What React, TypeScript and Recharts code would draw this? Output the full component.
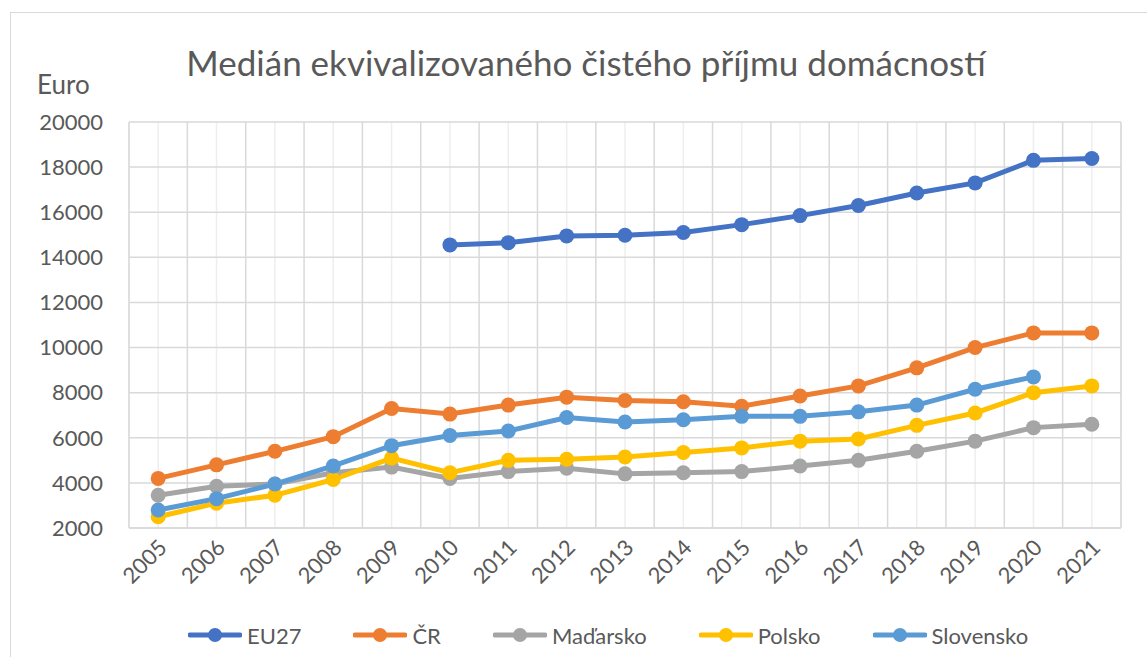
import React from 'react';
import { LineChart, Line, XAxis, YAxis, CartesianGrid, Legend } from 'recharts';

const years = ['2005','2006','2007','2008','2009','2010','2011','2012','2013','2014','2015','2016','2017','2018','2019','2020','2021'];
const eu27: (number | null)[] = [null, null, null, null, null, 14550, 14650, 14950, 14980, 15100, 15450, 15850, 16300, 16850, 17300, 18300, 18380];
const cr = [4200, 4800, 5400, 6050, 7300, 7050, 7450, 7800, 7650, 7600, 7400, 7850, 8300, 9100, 10000, 10650, 10650];
const hu = [3450, 3850, 3950, 4450, 4700, 4200, 4500, 4650, 4400, 4450, 4500, 4750, 5000, 5400, 5850, 6450, 6600];
const pl = [2500, 3100, 3450, 4150, 5100, 4450, 5000, 5050, 5150, 5350, 5550, 5850, 5950, 6550, 7100, 8000, 8300];
const sk: (number | null)[] = [2800, 3300, 3950, 4750, 5650, 6100, 6300, 6900, 6700, 6800, 6950, 6950, 7150, 7450, 8150, 8700, null];
const yTicks = [2000, 4000, 6000, 8000, 10000, 12000, 14000, 16000, 18000, 20000];

const seriesList = [
  { key: 'EU27', values: eu27, color: '#4472C4' },
  { key: 'ČR', values: cr, color: '#ED7D31' },
  { key: 'Maďarsko', values: hu, color: '#A5A5A5' },
  { key: 'Polsko', values: pl, color: '#FFC000' },
  { key: 'Slovensko', values: sk, color: '#5B9BD5' },
];

const data = years.map((y, i) => {
  const row: any = { year: y };
  seriesList.forEach((s) => { row[s.key] = s.values[i]; });
  return row;
});

const FONT = 'Lato, "Open Sans", sans-serif';
const TXT = '#595959';

// vertical lines at the category band boundaries
const boundaryGen = (props: any) => {
  const off = props.offset || {};
  const left = off.left ?? 0;
  const w = off.width ?? 0;
  const n = years.length;
  return Array.from({ length: n + 1 }, (_, i) => left + (i * w) / n);
};

const XTick = (props: any) => {
  const { x, y, payload } = props;
  return (
    <g transform={`translate(${x + 10},${y + 13})`}>
      <text x={0} y={0} transform="rotate(-45)" textAnchor="end" fill={TXT} fontSize={22} fontFamily={FONT}>
        {payload.value}
      </text>
    </g>
  );
};

const LegendContent = () => (
  <div style={{ display: 'flex', alignItems: 'center', height: 30, paddingLeft: 188, fontFamily: FONT, fontSize: 22, color: TXT }}>
    {seriesList.map((s) => (
      <div key={s.key} style={{ display: 'flex', alignItems: 'center', marginRight: 52 }}>
        <svg width={54} height={20} style={{ marginRight: 5 }}>
          <line x1={2} y1={10} x2={52} y2={10} stroke={s.color} strokeWidth={5} strokeLinecap="round" />
          <circle cx={27} cy={10} r={7} fill={s.color} />
        </svg>
        <span>{s.key}</span>
      </div>
    ))}
  </div>
);

export default function App() {
  return (
    <div style={{ position: 'absolute', left: 0, top: 0, width: 1147, height: 657, background: '#fff', overflow: 'hidden' }}>
      <div style={{ position: 'absolute', left: 10, top: 12, width: 1150, height: 660, border: '1px solid #D9D9D9', boxSizing: 'border-box' }} />
      <div style={{ position: 'absolute', left: 0, top: 38, width: 1172, textAlign: 'center', fontFamily: FONT, fontSize: 35, color: TXT, lineHeight: '48px' }}>
        Medián ekvivalizovaného čistého příjmu domácností
      </div>
      <div style={{ position: 'absolute', left: 37, top: 68, fontFamily: FONT, fontSize: 26, color: TXT, lineHeight: '32px' }}>Euro</div>
      <div style={{ position: 'absolute', left: 0, top: 0 }}>
        <LineChart width={1147} height={657} data={data} margin={{ top: 122, right: 26, bottom: 19, left: 0 }}>
          <CartesianGrid xAxisId="cat" yAxisId="y" horizontal={false} vertical={true} stroke="#EEEEEE" strokeWidth={1.5} />
          <CartesianGrid xAxisId="cat" yAxisId="y" horizontal={false} vertical={true} verticalCoordinatesGenerator={boundaryGen} stroke="#D9D9D9" strokeWidth={1.5} />
          <CartesianGrid xAxisId="cat" yAxisId="y" horizontal={true} vertical={false} stroke="#D9D9D9" strokeWidth={1.5} />
          <XAxis xAxisId="cat" dataKey="year" scale="band" interval={0} tick={<XTick />} tickLine={false} axisLine={{ stroke: '#D9D9D9', strokeWidth: 1.5 }} height={80} />
          <YAxis yAxisId="y" domain={[2000, 20000]} ticks={yTicks} interval={0} width={129} tickLine={false} axisLine={false} tickSize={0} tickMargin={26}
            tick={{ fill: TXT, fontSize: 22, fontFamily: FONT }} />
          {seriesList.map((s) => (
            <Line key={s.key} xAxisId="cat" yAxisId="y" type="linear" dataKey={s.key} stroke={s.color} strokeWidth={5}
              dot={{ r: 7.5, fill: s.color, stroke: s.color, strokeWidth: 0 }} activeDot={false} isAnimationActive={false} connectNulls={false} />
          ))}
          <Legend content={<LegendContent />} verticalAlign="bottom" wrapperStyle={{ position: 'absolute', top: 620, left: 0, bottom: 'auto', width: 1147, height: 30 }} />
        </LineChart>
      </div>
    </div>
  );
}
